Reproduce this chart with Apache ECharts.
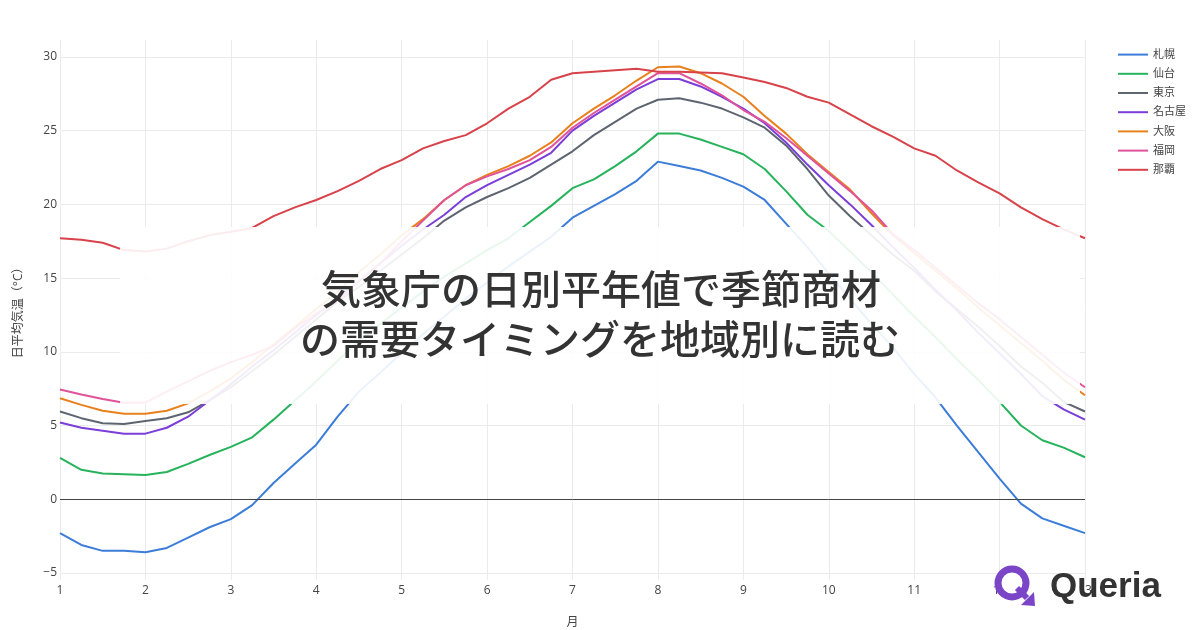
<!DOCTYPE html>
<html>
<head>
<meta charset="utf-8">
<script src="https://cdn.jsdelivr.net/npm/echarts@6/dist/echarts.min.js"></script>
<style>
  html, body { margin: 0; padding: 0; background: #fff; }
  #chart { width: 1200px; height: 630px; }
</style>
</head>
<body>
<div id="chart"></div>
<script>
// sample positions along the month axis (1 = Jan 1, 13 = end of Dec)
const monthPos = [1, 1.25, 1.5, 1.75, 2, 2.25, 2.5, 2.75, 3, 3.25, 3.5, 3.75, 4, 4.25, 4.5, 4.75,
  5, 5.25, 5.5, 5.75, 6, 6.25, 6.5, 6.75, 7, 7.25, 7.5, 7.75, 8, 8.25, 8.5, 8.75,
  9, 9.25, 9.5, 9.75, 10, 10.25, 10.5, 10.75, 11, 11.25, 11.5, 11.75, 12, 12.25, 12.5, 12.75, 13];

const cities = ['札幌', '仙台', '東京', '名古屋', '大阪', '福岡', '那覇'];

const sapporo = [-2.3, -3.1, -3.5, -3.5, -3.6, -3.3, -2.6, -1.9, -1.35, -0.4, 1.1, 2.4, 3.7, 5.6, 7.3, 8.6,
  9.9, 11.2, 12.4, 13.6, 14.7, 15.8, 16.8, 17.8, 19.1, 19.9, 20.7, 21.6, 22.9, 22.6, 22.3, 21.8,
  21.2, 20.3, 18.7, 17.1, 15.3, 13.6, 11.9, 10.3, 8.5, 6.9, 5.0, 3.2, 1.4, -0.3, -1.3, -1.8, -2.3];
const sendai = [2.8, 2.0, 1.75, 1.7, 1.65, 1.85, 2.4, 3.0, 3.55, 4.2, 5.4, 6.7, 8.0, 9.4, 10.7, 11.9,
  13.0, 14.1, 15.1, 16.0, 16.9, 17.7, 18.8, 19.9, 21.1, 21.7, 22.6, 23.6, 24.8, 24.8, 24.4, 23.9,
  23.4, 22.4, 20.9, 19.3, 18.2, 16.8, 15.4, 13.9, 12.4, 11.0, 9.5, 8.1, 6.6, 5.0, 4.0, 3.5, 2.85];
const tokyo = [5.95, 5.5, 5.15, 5.1, 5.3, 5.5, 5.9, 6.7, 7.6, 8.7, 9.8, 11.0, 12.2, 13.4, 14.4, 15.5,
  16.6, 17.7, 18.9, 19.8, 20.5, 21.1, 21.8, 22.7, 23.6, 24.7, 25.6, 26.5, 27.1, 27.2, 26.9, 26.5,
  25.9, 25.2, 24.0, 22.4, 20.6, 19.2, 17.9, 16.6, 15.5, 14.1, 12.9, 11.7, 10.4, 9.0, 7.9, 6.6, 5.95];
const nagoya = [5.2, 4.85, 4.65, 4.45, 4.45, 4.85, 5.6, 6.7, 7.8, 9.0, 10.1, 11.3, 12.5, 13.6, 14.8, 16.0,
  17.2, 18.3, 19.3, 20.5, 21.3, 22.0, 22.7, 23.5, 25.0, 26.0, 26.9, 27.8, 28.5, 28.5, 28.0, 27.3,
  26.5, 25.5, 24.2, 22.7, 21.3, 20.0, 18.6, 17.1, 15.7, 14.2, 12.8, 11.3, 9.9, 8.5, 7.0, 6.1, 5.4];
const osaka = [6.85, 6.4, 6.0, 5.8, 5.8, 6.0, 6.5, 7.3, 8.2, 9.3, 10.5, 11.7, 12.9, 14.1, 15.4, 16.6,
  17.9, 19.0, 20.3, 21.3, 22.0, 22.6, 23.3, 24.2, 25.5, 26.5, 27.4, 28.4, 29.3, 29.35, 28.9, 28.2,
  27.3, 26.0, 24.8, 23.4, 22.2, 21.0, 19.4, 17.9, 16.7, 15.5, 14.3, 13.0, 11.8, 10.6, 9.4, 8.1, 7.05];
const fukuoka = [7.45, 7.1, 6.8, 6.55, 6.55, 7.3, 8.0, 8.7, 9.3, 9.8, 10.4, 11.6, 12.6, 13.4, 14.8, 16.0,
  17.5, 18.9, 20.3, 21.3, 21.9, 22.4, 23.0, 23.9, 25.2, 26.2, 27.1, 28.0, 28.9, 28.9, 28.2, 27.4,
  26.4, 25.6, 24.5, 23.3, 22.1, 20.9, 19.6, 18.0, 16.9, 15.7, 14.5, 13.3, 12.2, 11.0, 9.8, 8.6, 7.6];
const naha = [17.7, 17.6, 17.4, 16.9, 16.8, 17.0, 17.5, 17.9, 18.15, 18.4, 19.2, 19.8, 20.3, 20.9, 21.6, 22.4,
  23.0, 23.8, 24.3, 24.7, 25.5, 26.5, 27.3, 28.45, 28.9, 29.0, 29.1, 29.2, 29.0, 29.0, 28.95, 28.9,
  28.6, 28.3, 27.9, 27.3, 26.9, 26.1, 25.3, 24.6, 23.8, 23.3, 22.3, 21.5, 20.75, 19.8, 19.0, 18.3, 17.7];

const cityValues = [sapporo, sendai, tokyo, nagoya, osaka, fukuoka, naha];
const cityColors = ['#3c7dd9', '#26b35c', '#5e6570', '#7b3ed8', '#e8801c', '#e0529a', '#d8434b'];

const yTicks = [-5, 0, 5, 10, 15, 20, 25, 30];

const titleLines = ['気象庁の日別平年値で季節商材', 'の需要タイミングを地域別に読む'];

const FONT = '"Open Sans", "Noto Sans CJK JP", sans-serif';
const chart = echarts.init(document.getElementById('chart'), null, { renderer: 'canvas' });

const series = [{
  // zero line, drawn under the traces
  name: 'zero',
  type: 'line',
  data: [],
  silent: true,
  markLine: {
    silent: true,
    symbol: 'none',
    label: { show: false },
    lineStyle: { color: '#444', width: 1, type: 'solid' },
    data: [{ yAxis: 0 }]
  }
}].concat(cities.map((name, i) => ({
  name: name,
  type: 'line',
  symbol: 'none',
  data: monthPos.map((x, j) => [x, cityValues[i][j]]),
  lineStyle: { width: 2, color: cityColors[i] },
  itemStyle: { color: cityColors[i] },
  emphasis: { disabled: true }
})));

chart.setOption({
  animation: false,
  backgroundColor: '#fff',
  textStyle: { fontFamily: FONT },
  grid: { left: 60, right: 115, top: 40, bottom: 50.4, outerBoundsMode: 'none', containLabel: false },
  legend: {
    orient: 'vertical',
    left: 1112,
    top: 44,
    itemWidth: 30,
    itemHeight: 14,
    itemGap: 8,
    itemStyle: { opacity: 0 },
    textStyle: { fontSize: 11, color: '#444', fontFamily: FONT },
    data: cities
  },
  xAxis: {
    type: 'value',
    min: 1,
    max: 13,
    interval: 1,
    name: '月',
    nameLocation: 'middle',
    nameGap: 37,
    nameTextStyle: { fontSize: 12, color: '#444' },
    axisLine: { show: false },
    axisTick: { show: false },
    axisLabel: { color: '#444', fontSize: 12, margin: 5 },
    splitLine: { lineStyle: { color: '#ebebeb', width: 1 } }
  },
  yAxis: {
    type: 'value',
    min: -5.45,
    max: 31.15,
    name: '日平均気温（°C）',
    nameLocation: 'middle',
    nameGap: 35,
    nameRotate: 90,
    nameTextStyle: { fontSize: 12, color: '#444' },
    axisLine: { show: false },
    axisTick: { show: false, customValues: yTicks },
    axisLabel: {
      customValues: yTicks,
      color: '#444',
      fontSize: 12,
      margin: 3,
      formatter: v => (v < 0 ? '\u2212' + Math.abs(v) : String(v))
    },
    splitLine: { lineStyle: { color: '#ebebeb', width: 1 } }
  },
  series: series,
  graphic: [
    // translucent title panel
    {
      type: 'rect', z: 100, silent: true,
      shape: { x: 120, y: 227, width: 960, height: 177 },
      style: { fill: 'rgba(255,255,255,0.9)' }
    },
    {
      type: 'text', z: 101, silent: true, x: 601, y: 289,
      style: { text: titleLines[0], fill: '#333', align: 'center', verticalAlign: 'middle',
        font: '500 40px "Noto Sans CJK JP"' }
    },
    {
      type: 'text', z: 101, silent: true, x: 600, y: 339,
      style: { text: titleLines[1], fill: '#333', align: 'center', verticalAlign: 'middle',
        font: '500 40px "Noto Sans CJK JP"' }
    },
    // logo
    {
      type: 'circle', z: 100, silent: true,
      shape: { cx: 1012, cy: 583, r: 14 },
      style: { fill: '#fff', stroke: '#7b45c8', lineWidth: 7 }
    },
    {
      type: 'line', z: 101, silent: true,
      shape: { x1: 1017, y1: 588, x2: 1027, y2: 598 },
      style: { stroke: '#7b45c8', lineWidth: 6 }
    },
    {
      type: 'polygon', z: 101, silent: true,
      shape: { points: [[1035, 606], [1021, 605], [1034, 592]] },
      style: { fill: '#7b45c8' }
    },
    {
      type: 'text', z: 101, silent: true, x: 1050, y: 587,
      style: { text: 'Queria', fill: '#333', verticalAlign: 'middle',
        font: 'bold 35px "Liberation Sans", Arial, sans-serif' }
    }
  ]
});
</script>
</body>
</html>
